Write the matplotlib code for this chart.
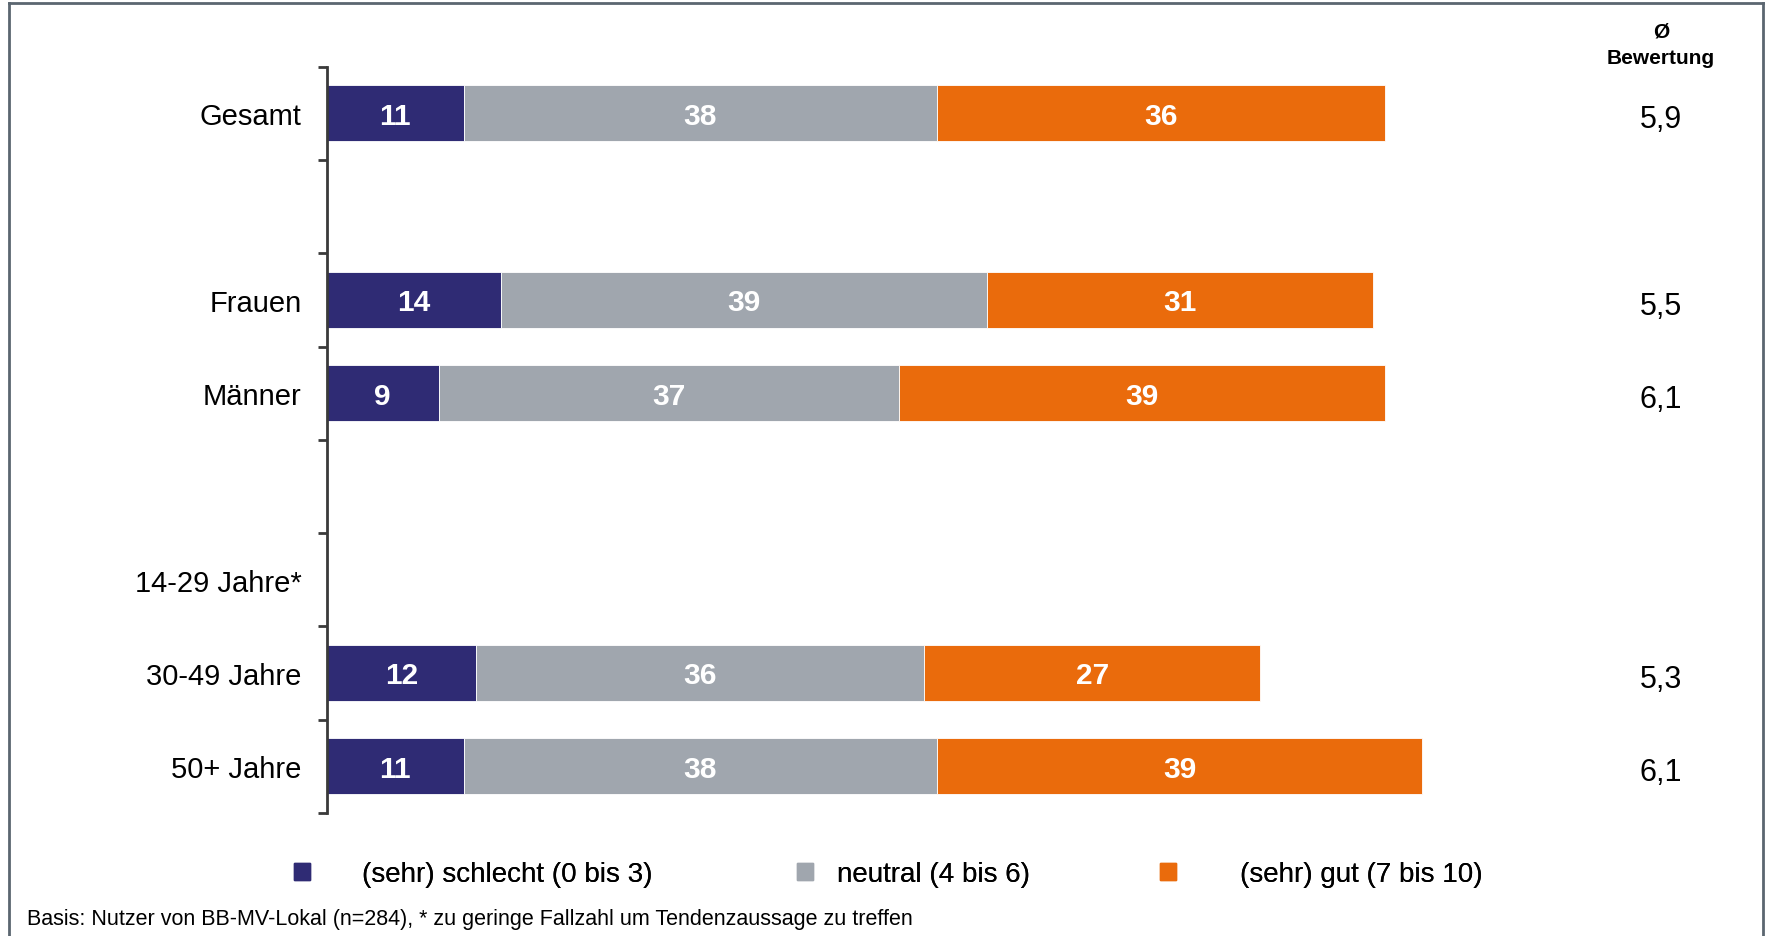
import matplotlib
matplotlib.use("Agg")
import matplotlib.pyplot as plt
from matplotlib.patches import Rectangle
from matplotlib.lines import Line2D
import numpy as np

plt.rcParams['font.family'] = ['Liberation Sans', 'DejaVu Sans']

categories = ["Gesamt", "", "Frauen", "Männer", "", "14-29 Jahre*", "30-49 Jahre", "50+ Jahre"]
schlecht = [11, np.nan, 14, 9, np.nan, np.nan, 12, 11]
neutral = [38, np.nan, 39, 37, np.nan, np.nan, 36, 38]
gut = [36, np.nan, 31, 39, np.nan, np.nan, 27, 39]
bewertung = ["5,9", "", "5,5", "6,1", "", "", "5,3", "6,1"]
series_names = ["(sehr) schlecht (0 bis 3)", "neutral (4 bis 6)", "(sehr) gut (7 bis 10)"]
colors = ["#2F2B74", "#A0A6AE", "#EA6B0C"]
footnote = "Basis: Nutzer von BB-MV-Lokal (n=284), * zu geringe Fallzahl um Tendenzaussage zu treffen"

W, H = 1768, 937
fig = plt.figure(figsize=(W / 100, H / 100), dpi=100)

ax_left, ax_top, ax_bottom = 326.7, 67.7, 814.0
ax = fig.add_axes([ax_left / W, 1 - ax_bottom / H, 1245 / W, (ax_bottom - ax_top) / H])
ax.set_xlim(0, 100)
n = len(categories)
ax.set_ylim(n - 0.5, -0.5)

y = np.arange(n)
left = np.zeros(n)
for vals, col, name in zip([schlecht, neutral, gut], colors, series_names):
    v = np.array(vals, dtype=float)
    ax.barh(y, np.nan_to_num(v), left=left, height=0.6, color=col,
            edgecolor="white", linewidth=0.6, label=name)
    for yi, (l, w) in enumerate(zip(left, v)):
        if not np.isnan(w):
            ax.text(l + w / 2, yi + 0.025, f"{int(w)}", ha="center", va="center",
                    color="white", fontsize=21.5, fontweight="bold")
    left = left + np.nan_to_num(v)

# axes styling
for s in ["top", "right", "bottom"]:
    ax.spines[s].set_visible(False)
ax.spines["left"].set_color("#3a3a3a")
ax.spines["left"].set_linewidth(2)
ax.set_xticks([])
ax.set_yticks(y)
ax.set_yticklabels(categories, fontsize=21)
ax.tick_params(axis="y", which="major", length=0, pad=18)
ax.set_yticks(np.arange(-0.5, n, 1.0), minor=True)
ax.tick_params(axis="y", which="minor", length=6.5, width=2, color="#3a3a3a")

# Bewertung column
xcol = 1661 / W
trans = matplotlib.transforms.blended_transform_factory(fig.transFigure, ax.transData)
for yi, b in enumerate(bewertung):
    if b:
        ax.text(xcol, yi + 0.06, b, transform=trans, ha="center", va="center", fontsize=22)
fig.text(xcol, 1 - 32.5 / H, "Ø", ha="center", va="center", fontsize=15, fontweight="bold")
fig.text(xcol, 1 - 58.5 / H, "Bewertung", ha="center", va="center", fontsize=15, fontweight="bold")

# legend: one entry per series, placed as in the reference
sq_left = [294, 797, 1160]
txt_left = [362, 837, 1240]
fs = 20
fs_px = fs * 100 / 72
for name, col, sl, tl in zip(series_names, colors, sq_left, txt_left):
    h = Rectangle((0, 0), 1, 1, color=col)
    fig.add_artist(fig.legend([h], [name], loc="center left",
                              bbox_to_anchor=(sl / W, 1 - 875 / H), frameon=False,
                              fontsize=fs, borderpad=0, borderaxespad=0,
                              handlelength=16 / fs_px, handleheight=16 / fs_px,
                              handletextpad=(tl - sl - 16) / fs_px))

fig.text(27 / W, 1 - 920 / H, footnote, ha="left", va="center", fontsize=15.5)

# border
bc = "#5B6670"
fig.add_artist(Line2D([9 / W, 9 / W], [0, 1 - 4 / H], color=bc, lw=2, transform=fig.transFigure))
fig.add_artist(Line2D([9 / W, 1763 / W], [1 - 4 / H, 1 - 4 / H], color=bc, lw=2, transform=fig.transFigure))
fig.add_artist(Line2D([1763 / W, 1763 / W], [0, 1 - 4 / H], color=bc, lw=2, transform=fig.transFigure))

fig.savefig("out.png", dpi=100, facecolor="white")
